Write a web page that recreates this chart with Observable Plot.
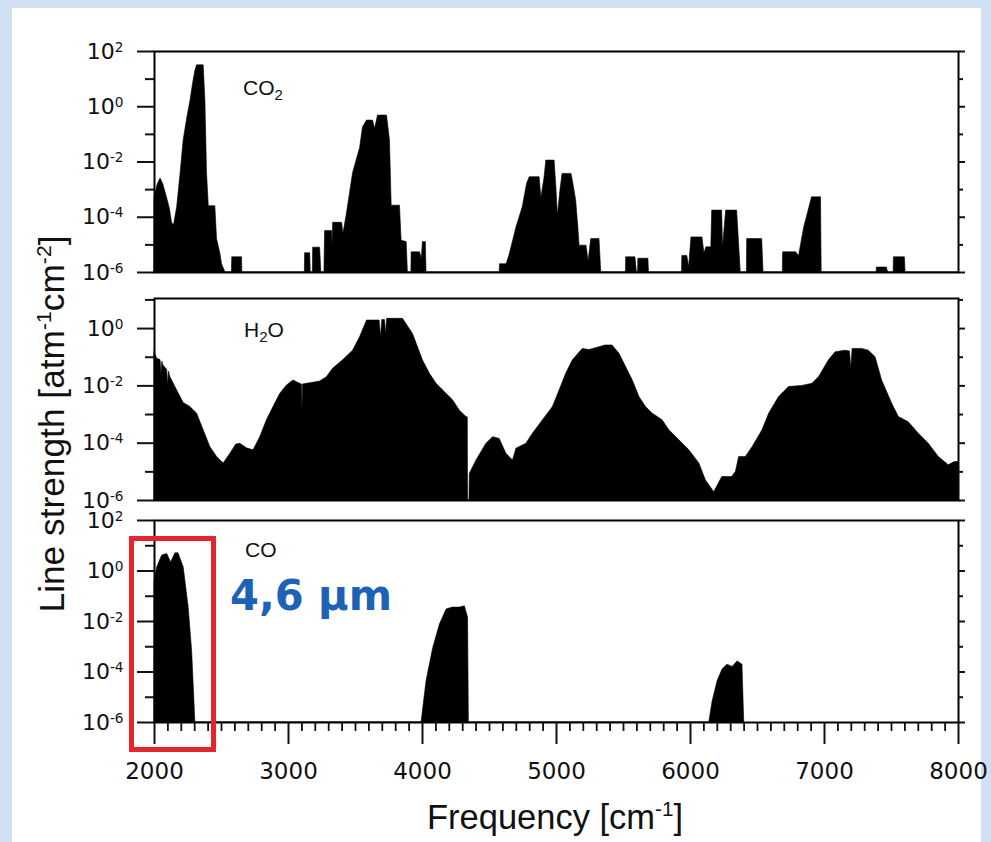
<!DOCTYPE html>
<html>
<head>
<meta charset="utf-8">
<script src="https://cdn.jsdelivr.net/npm/d3@7"></script>
<script src="https://cdn.jsdelivr.net/npm/@observablehq/plot@0.6"></script>
<style>
html,body{margin:0;padding:0;}
body{width:991px;height:842px;background:#d0dff1;position:relative;overflow:hidden;font-family:"Liberation Sans",Arial,sans-serif;}
#sheet{position:absolute;left:12px;top:8px;width:969px;height:834px;background:#fff;}
.panel{position:absolute;left:0;}
.panel svg{overflow:visible;}
#box{position:absolute;left:129px;top:536px;width:87px;height:216px;box-sizing:border-box;border:5px solid #e3262b;}
#overlay{position:absolute;left:0;top:0;pointer-events:none;}
</style>
</head>
<body>
<div id="sheet"></div>
<div id="co2" class="panel" style="top:31px"></div>
<div id="h2o" class="panel" style="top:278px"></div>
<div id="co" class="panel" style="top:500px"></div>
<div id="box"></div>
<svg id="overlay" width="991" height="842" font-family="Liberation Sans, Arial, sans-serif">
  <text transform="translate(64,424) rotate(-90)" text-anchor="middle" font-size="35" fill="#111" textLength="377" lengthAdjust="spacingAndGlyphs">Line strength [atm<tspan dy="-13" font-size="21">-1</tspan><tspan dy="13">cm</tspan><tspan dy="-13" font-size="21">-2</tspan><tspan dy="13">]</tspan></text>
  <text x="427" y="829" font-size="35" fill="#111" textLength="256" lengthAdjust="spacingAndGlyphs">Frequency [cm<tspan dy="-13" font-size="21">-1</tspan><tspan dy="13">]</tspan></text>
  <text x="243" y="95" font-size="21" fill="#111">CO<tspan dy="5" font-size="15">2</tspan></text>
  <text x="244" y="337" font-size="21" fill="#111">H<tspan dy="5" font-size="15">2</tspan><tspan dy="-5">O</tspan></text>
  <text x="245" y="557" font-size="21" fill="#111">CO</text>
  <text x="230" y="610" font-family="DejaVu Sans, Verdana, sans-serif" font-weight="bold" font-size="42" fill="#1d62b5" textLength="162" lengthAdjust="spacingAndGlyphs">4,6 µm</text>
</svg>
<script>
// ---- data: [frequency (cm^-1), log10 line strength (atm^-1 cm^-2)] envelope points ----
const co2Lines = [
[2000,-3.3],[2025,-2.8],[2045,-2.6],[2065,-2.8],[2094,-3.3],[2115,-3.7],[2131,-4.2],[2145,-4.3],[2169,-3.65],[2195,-2.4],[2218,-1.2],[2245,-0.4],[2268,0.2],[2290,0.9],[2305,1.3],[2318,1.5],[2367,1.5],[2380,0.2],[2392,-2.4],[2405,-3.6],[2454,-3.6],[2467,-4.8],[2491,-5.3],[2504,-5.7],[2529,-6],
[2578,-6],[2580,-5.45],[2653,-5.45],[2656,-6],
[3122,-6],[3124,-5.3],[3162,-5.3],[3166,-6],[3182,-6],[3184,-5.1],[3236,-5.1],[3245,-6],[3268,-6],[3273,-4.5],[3325,-4.5],[3329,-5.0],[3333,-4.2],[3400,-4.2],[3410,-4.6],[3435,-3.9],[3482,-2.4],[3534,-1.5],[3556,-0.74],[3586,-0.5],[3631,-0.5],[3646,-0.8],[3668,-0.32],[3735,-0.32],[3757,-1.2],[3770,-3.58],[3832,-3.58],[3844,-4.85],[3882,-4.9],[3891,-6],
[3917,-6],[3919,-5.27],[3981,-5.27],[3995,-5.5],[4003,-4.9],[4025,-4.9],[4030,-6],
[4576,-6],[4578,-5.7],[4628,-5.7],[4651,-5.35],[4701,-4.37],[4748,-3.64],[4780,-2.8],[4800,-2.55],[4874,-2.55],[4887,-3.3],[4910,-2.6],[4924,-1.95],[4986,-1.95],[5000,-3.0],[5010,-3.94],[5030,-3.0],[5045,-2.43],[5112,-2.43],[5130,-2.9],[5147,-3.4],[5165,-4.5],[5172,-5.03],[5224,-5.03],[5240,-5.6],[5259,-4.79],[5321,-4.79],[5334,-6],
[5518,-6],[5520,-5.45],[5589,-5.45],[5600,-6],[5609,-6],[5611,-5.5],[5686,-5.5],[5690,-6],
[5937,-6],[5939,-5.4],[5976,-5.4],[5990,-5.8],[6007,-4.73],[6089,-4.73],[6104,-5.3],[6119,-5.09],[6155,-5.09],[6162,-3.76],[6236,-3.76],[6243,-5.09],[6266,-3.76],[6348,-3.76],[6375,-6],
[6421,-6],[6423,-4.79],[6535,-4.79],[6545,-6],
[6689,-6],[6691,-5.27],[6788,-5.27],[6810,-5.4],[6848,-4.38],[6907,-3.28],[6974,-3.28],[6979,-6],
[7389,-6],[7391,-5.82],[7465,-5.82],[7475,-6],[7516,-6],[7518,-5.45],[7600,-5.45],[7605,-6],[8000,-6]
];

const h2oLines = [
[2000,-0.83],[2020,-1.05],[2045,-1.1],[2052,-1.6],[2058,-1.15],[2067,-1.29],[2095,-1.45],[2102,-2.0],[2108,-1.5],[2119,-1.7],[2169,-2.16],[2218,-2.6],[2268,-2.74],[2318,-2.97],[2367,-3.55],[2417,-4.14],[2467,-4.48],[2516,-4.71],[2566,-4.37],[2610,-4.05],[2640,-4.02],[2690,-4.18],[2739,-4.25],[2789,-3.79],[2839,-3.2],[2888,-2.74],[2938,-2.28],[2988,-1.99],[3037,-1.81],[3087,-1.93],[3100,-1.95],[3104,-2.9],[3108,-1.95],[3137,-1.93],[3236,-1.85],[3286,-1.7],[3333,-1.4],[3407,-1.11],[3482,-0.77],[3534,-0.3],[3586,0.28],[3680,0.28],[3690,-0.3],[3700,0.3],[3720,0.3],[3728,-0.2],[3736,0.34],[3780,0.34],[3854,0.34],[3929,-0.19],[4003,-1.11],[4055,-1.58],[4105,-1.93],[4154,-2.16],[4229,-2.51],[4278,-2.86],[4328,-3.09],[4338,-3.1],[4340,-6],[4350,-6],[4353,-5.07],[4403,-4.6],[4477,-4.02],[4527,-3.79],[4576,-3.85],[4626,-4.37],[4675,-4.6],[4701,-4.19],[4775,-4.02],[4824,-3.67],[4899,-3.2],[4973,-2.74],[5023,-2.16],[5072,-1.58],[5122,-1.11],[5196,-0.71],[5246,-0.75],[5321,-0.65],[5366,-0.59],[5418,-0.59],[5470,-0.88],[5520,-1.35],[5569,-1.81],[5619,-2.39],[5668,-2.74],[5718,-2.97],[5792,-3.2],[5842,-3.55],[5917,-3.9],[5991,-4.25],[6066,-4.71],[6115,-5.3],[6177,-5.71],[6237,-5.18],[6311,-5.18],[6339,-5.0],[6363,-4.48],[6413,-4.48],[6463,-4.14],[6537,-3.55],[6587,-2.97],[6661,-2.39],[6735,-2.04],[6835,-2.0],[6909,-1.93],[6959,-1.7],[7033,-1.11],[7083,-0.83],[7158,-0.77],[7190,-0.8],[7200,-1.4],[7210,-0.71],[7281,-0.71],[7331,-0.77],[7381,-1.0],[7430,-1.81],[7505,-2.62],[7555,-3.09],[7629,-3.27],[7704,-3.67],[7778,-4.02],[7853,-4.48],[7927,-4.77],[7972,-4.66],[8000,-4.66]
];

const coLines = [
[2000,-0.39],[2020,0.14],[2057,0.61],[2095,0.67],[2124,0.34],[2156,0.7],[2179,0.7],[2218,0.14],[2255,-1.45],[2281,-3.18],[2298,-5.17],[2305,-6],
[3993,-6],[4030,-4.37],[4080,-3.05],[4130,-2.12],[4180,-1.52],[4226,-1.45],[4278,-1.45],[4316,-1.4],[4340,-1.85],[4346,-6],
[6140,-6],[6165,-5.17],[6202,-4.37],[6239,-3.9],[6276,-3.71],[6314,-3.8],[6351,-3.58],[6388,-3.71],[6401,-6]
];

const xMajorTicks = [2000, 3000, 4000, 5000, 6000, 7000, 8000];
const yMajorTicks = [1e-6, 1e-4, 1e-2, 1, 1e2];
const yMinorTicks = [1e-5, 1e-3, 1e-1, 1e1];
const xDomain = [2000, 8000];
const co2Domain = [1e-6, 1e2];
const h2oDomain = [1e-6, 11.2];
const coDomain = [1e-6, 1e2];

const xMinorTicks = d3.range(2100, 8000, 100).filter(d => d % 1000 !== 0);
const toRows = arr => arr.map(([f, e]) => ({f, s: Math.pow(10, e)}));
const expLabel = d => "10^" + Math.round(Math.log10(d));
const tickFont = "'DejaVu Sans', Verdana, sans-serif";

function panel(lines, domain, height, marginBottom, withX) {
  const inDom = t => t >= domain[0] * 0.999 && t <= domain[1] * 1.001;
  const majors = yMajorTicks.filter(inDom);
  const minors = yMinorTicks.filter(inDom);
  const marks = [
    Plot.areaY(toRows(lines), {x: "f", y1: 1e-6, y2: "s", fill: "black", stroke: "black", strokeWidth: 0.6}),
    Plot.axisY({ticks: majors, tickSize: 17, tickPadding: 14, strokeWidth: 2, tickFormat: expLabel, label: null}),
    Plot.axisY({ticks: minors, tickSize: 9, strokeWidth: 2, tickFormat: () => "", label: null}),
    Plot.axisY({anchor: "right", ticks: majors, tickSize: 6, strokeWidth: 2, tickFormat: () => "", label: null}),
    Plot.axisY({anchor: "right", ticks: minors, tickSize: 4, strokeWidth: 2, tickFormat: () => "", label: null}),
    Plot.frame({stroke: "black", strokeWidth: 2})
  ];
  if (withX) {
    marks.push(
      Plot.axisX({ticks: xMajorTicks, tickSize: 22, tickPadding: 18, strokeWidth: 2, tickFormat: d => String(d), label: null}),
      Plot.axisX({ticks: xMinorTicks, tickSize: 9, strokeWidth: 1.8, tickFormat: () => "", label: null})
    );
  }
  const svg = Plot.plot({
    width: 991, height, marginLeft: 154, marginRight: 33, marginTop: 20, marginBottom,
    x: {domain: xDomain, label: null, ...(withX ? {} : {axis: null})},
    y: {type: "log", domain, label: null},
    style: {background: "transparent", color: "#111", fontFamily: "Liberation Sans, Arial, sans-serif", overflow: "visible"},
    marks
  });
  const ns = "http://www.w3.org/2000/svg";
  svg.querySelectorAll('g[aria-label="x-axis tick label"] text').forEach(t => {
    t.style.fontSize = "23px";
    t.style.fontFamily = tickFont;
  });
  // superscript exponents on the y tick labels
  svg.querySelectorAll('g[aria-label="y-axis tick label"] text').forEach(t => {
    t.style.fontSize = "22px";
    t.style.fontFamily = tickFont;
    const m = (t.textContent || "").match(/^10\^(-?\d+)$/);
    if (!m) return;
    t.textContent = "";
    const a = document.createElementNS(ns, "tspan"); a.textContent = "10"; t.appendChild(a);
    const b = document.createElementNS(ns, "tspan");
    b.setAttribute("dy", "-0.5em"); b.setAttribute("font-size", "0.62em");
    b.textContent = m[1]; t.appendChild(b);
  });
  return svg;
}

document.getElementById("co2").appendChild(panel(co2Lines, co2Domain, 261, 20, false));
document.getElementById("h2o").appendChild(panel(h2oLines, h2oDomain, 242, 20, false));
document.getElementById("co").appendChild(panel(coLines, coDomain, 312, 90, true));
</script>
</body>
</html>
